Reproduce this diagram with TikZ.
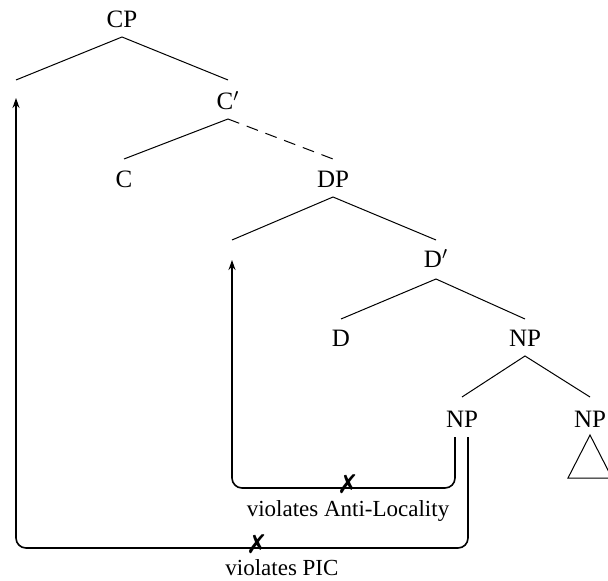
\documentclass[tikz,border=0pt]{standalone}
\usepackage{fontspec}
\setmainfont{Liberation Serif}
\newfontfamily\symfont{DejaVu Sans}
\usetikzlibrary{calc,arrows.meta}
\begin{document}
\begin{tikzpicture}[x=0.5pt,y=-0.5pt,
  lab/.style={font=\fontsize{12.5}{14}\selectfont, inner sep=0pt, anchor=base},
  small/.style={font=\fontsize{11.5}{13}\selectfont, inner sep=0pt, anchor=base},
  br/.style={line width=0.5pt},
  mv/.style={line width=0.8pt, rounded corners=5, -{Stealth[length=5pt,width=3.5pt]}},
  xmark/.style={font=\symfont\bfseries\fontsize{13}{13}\selectfont, inner sep=0pt}]
\useasboundingbox (0,0) rectangle (608,581);
% labels
\node[lab] (cp) at (122,28) {CP};
\node[lab] (cbar) at (228,110) {C$'$};
\node[lab] (c) at (124,188) {C};
\node[lab] (dp) at (333,188) {DP};
\node[lab] (dbar) at (436,268) {D$'$};
\node[lab] (d) at (341,347) {D};
\node[lab] (np1) at (525,347) {NP};
\node[lab] (np2) at (462,427) {NP};
\node[lab] (np3) at (590,427) {NP};
\coordinate (cpL) at (16,80);
\coordinate (dpL) at (232,240);
% branches
\draw[br] (cpL) -- ($(cp.base)+(0,9)$) -- ($(cbar.base)+(0,-30)$);
\draw[br] ($(c.base)+(0,-29)$) -- ($(cbar.base)+(0,9)$);
\draw[br,dashed,dash pattern=on 6pt off 4pt] ($(cbar.base)+(0,9)$) -- ($(dp.base)+(0,-29)$);
\draw[br] (dpL) -- ($(dp.base)+(0,9)$) -- ($(dbar.base)+(0,-28)$);
\draw[br] ($(d.base)+(0,-28)$) -- ($(dbar.base)+(0,11)$) -- ($(np1.base)+(0,-28)$);
\draw[br] ($(np2.base)+(0,-30)$) -- ($(np1.base)+(0,9)$) -- ($(np3.base)+(0,-30)$);
\draw[br] ($(np3.base)+(0,8)$) -- ($(np3.base)+(-22,51)$) -- ($(np3.base)+(22,51)$) -- cycle;
% movement arrows
\draw[mv] ($(np2.base)+(-7,10)$) -- ++(0,51) -| ($(dpL)+(0,20)$);
\draw[mv] ($(np2.base)+(6,10)$) -- ++(0,111) -| ($(cpL)+(0,18)$);
\node[xmark] (x1) at (348,484) {✗};
\node[xmark] (x2) at (257,544) {✗};
\node[small] (al) at (348,516) {violates Anti-Locality};
\node[small, anchor=base west] (pic) at (225,575) {violates PIC};
\end{tikzpicture}
\end{document}
